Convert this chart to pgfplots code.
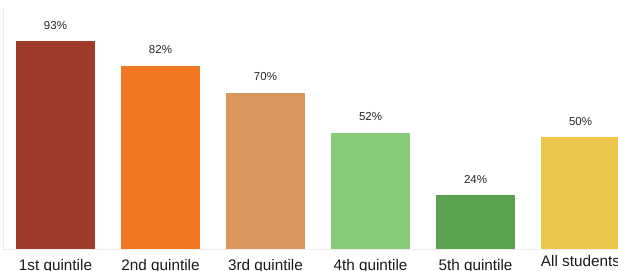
\documentclass[border=0pt]{standalone}
\usepackage{fontspec}
\setmainfont{Liberation Sans}
\usepackage{pgfplots}
\pgfplotsset{compat=1.18}
\definecolor{c1}{HTML}{A03A28}
\definecolor{c2}{HTML}{F07820}
\definecolor{c3}{HTML}{DA955A}
\definecolor{c4}{HTML}{88CC7A}
\definecolor{c5}{HTML}{5AA250}
\definecolor{c6}{HTML}{EBC84A}
\begin{document}
\begin{tikzpicture}
\begin{axis}[
  scale only axis,
  width=615pt, height=241pt,
  xmin=-0.5, xmax=5.357,
  ymin=0, ymax=108,
  ybar, bar width=79pt, bar shift=0pt,
  axis lines*=left,
  axis line style={draw=black!7, line width=0.8pt},
  ytick=\empty,
  xtick={0,1,2,3,4,5},
  xticklabels={1st quintile,2nd quintile,3rd quintile,4th quintile,5th quintile,\raisebox{4pt}[\height][\depth]{All students}},
  major tick length=0pt,
  xticklabel style={font=\fontsize{15.3}{18}\selectfont, text=black!90, yshift=-7pt},
  /pgf/number format/assume math mode=true,
  nodes near coords={\pgfmathprintnumber{\pgfplotspointmeta}\%},
  every node near coord/.append style={font=\fontsize{11.5}{14}\selectfont, text=black!85, yshift=8.5pt},
  clip=true,
]
\addplot[fill=c1, draw=none] coordinates {(0,93)};
\addplot[fill=c2, draw=none] coordinates {(1,82)};
\addplot[fill=c3, draw=none] coordinates {(2,70)};
\addplot[fill=c4, draw=none] coordinates {(3,52)};
\addplot[fill=c5, draw=none] coordinates {(4,24)};
\addplot[fill=c6, draw=none] coordinates {(5,50)};
\end{axis}
\pgfresetboundingbox
\useasboundingbox ([xshift=-3pt,yshift=-22pt]current axis.south west) rectangle ([yshift=8pt]current axis.north east);
\end{tikzpicture}
\end{document}
